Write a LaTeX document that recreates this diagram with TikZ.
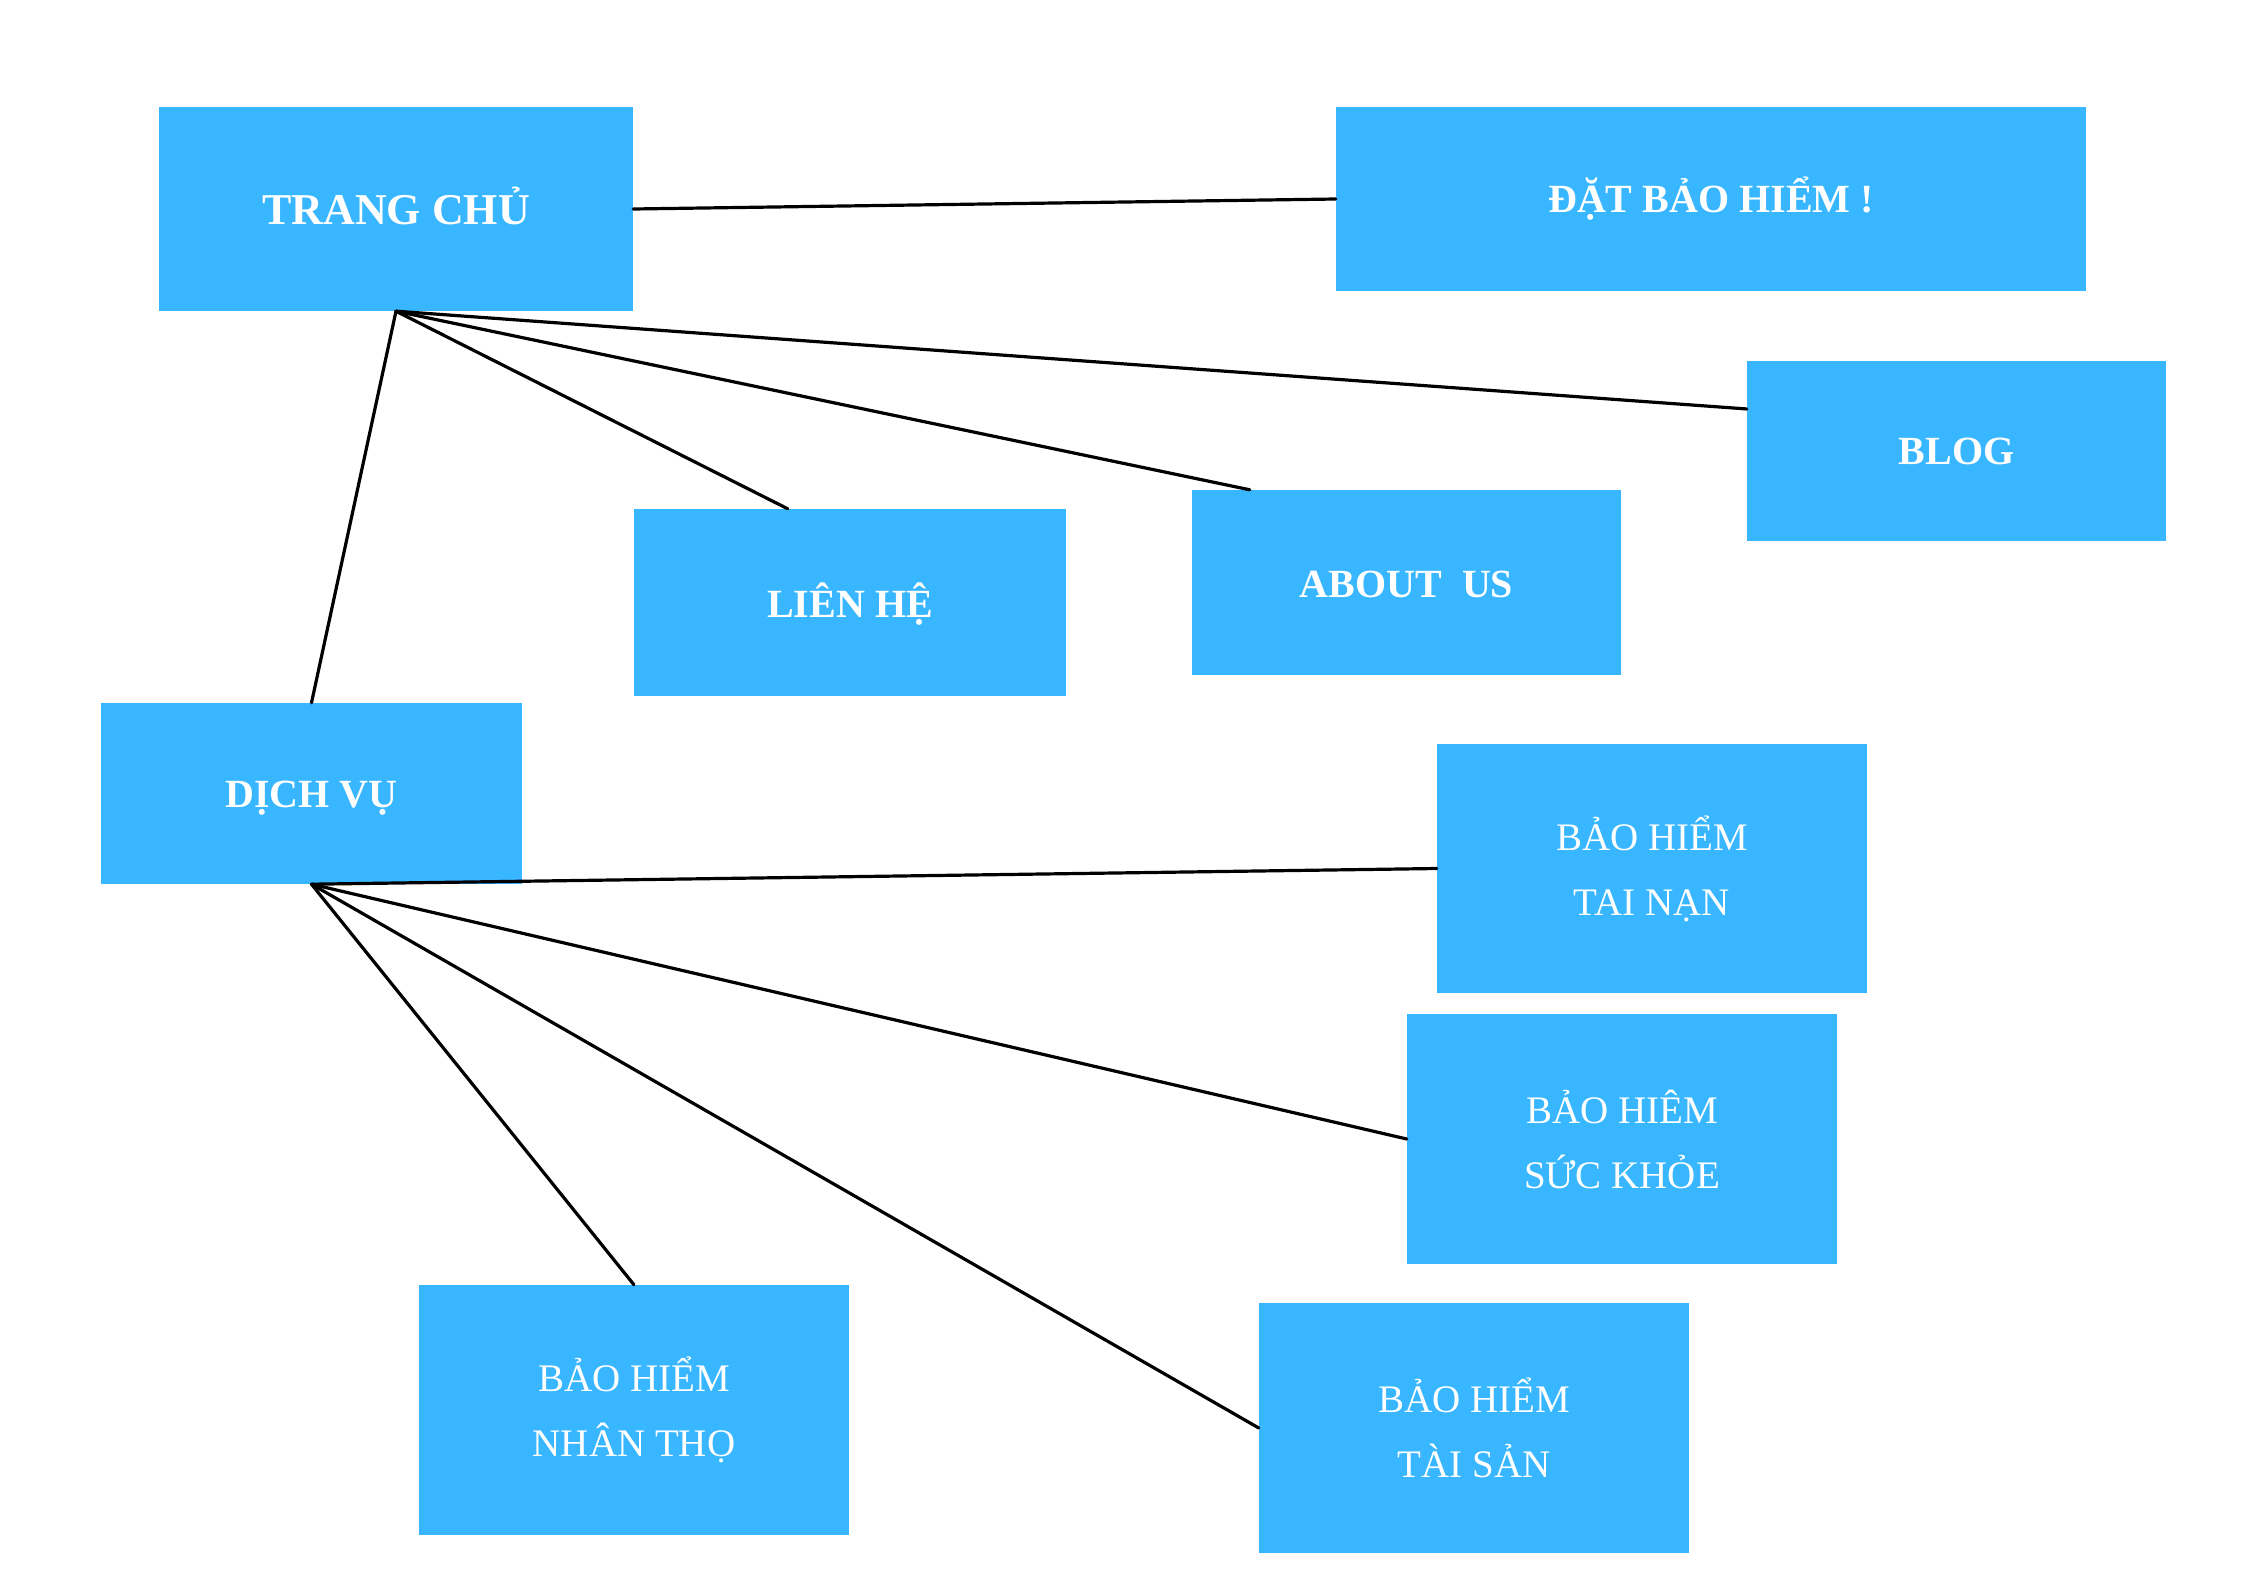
\documentclass[tikz,border=0pt]{standalone}
\usepackage{fontspec}
\setmainfont{Liberation Serif}
\usetikzlibrary{calc}
\definecolor{boxblue}{HTML}{38B6FF}
\newcommand{\nudge}[2]{\raisebox{#1}[\height][\depth]{#2}}
\tikzset{
  box/.style={fill=boxblue, draw=none, inner sep=0pt, text=white, align=center},
  boldlabel/.style={font=\fontsize{40}{48}\selectfont\bfseries},
  biglabel/.style={font=\fontsize{44}{52}\selectfont\bfseries},
  pairlabel/.style={font=\fontsize{39}{65}\selectfont},
  link/.style={draw=black, line width=3.2pt, line cap=round}
}
\begin{document}
\begin{tikzpicture}[x=1pt, y=-1pt]
  \useasboundingbox (0,0) rectangle (2245,1587);
  \fill[white] (0,0) rectangle (2245,1587);

  % menu boxes
  \node[box, biglabel, minimum width=474pt, minimum height=204pt] (tc) at (396,209) {\nudge{3pt}{TRANG CHỦ}};
  \node[box, boldlabel, minimum width=750pt, minimum height=184pt] (dbh) at (1711,199) {ĐẶT BẢO HIỂM !};
  \node[box, boldlabel, minimum width=419pt, minimum height=180pt] (blog) at (1956.5,451) {BLOG};
  \node[box, boldlabel, minimum width=432pt, minimum height=187pt] (lh) at (850,602.5) {\nudge{-2pt}{LIÊN HỆ}};
  \node[box, boldlabel, minimum width=429pt, minimum height=185pt] (au) at (1406.5,582.5) {\nudge{-2pt}{ABOUT\ \ US}};
  \node[box, boldlabel, minimum width=421pt, minimum height=181pt] (dv) at (311.5,793.5) {\nudge{-5pt}{DỊCH VỤ}};

  % service boxes
  \node[box, pairlabel, minimum width=430pt, minimum height=249pt] (tn) at (1652,868.5) {BẢO HIỂM\\TAI NẠN};
  \node[box, pairlabel, minimum width=430pt, minimum height=250pt] (sk) at (1622,1139) {BẢO HIÊM\\SỨC KHỎE};
  \node[box, pairlabel, minimum width=430pt, minimum height=250pt] (nt) at (634,1410) {BẢO HIỂM\\NHÂN THỌ};
  \node[box, pairlabel, minimum width=430pt, minimum height=250pt] (ts) at (1474,1428) {BẢO HIỂM\\TÀI SẢN};

  % connectors from the home page
  \draw[link] (tc.east) -- (dbh.west);
  \draw[link] (tc.south) -- ($(blog.north west)!0.267!(blog.south west)$);
  \draw[link] (tc.south) -- ($(au.north west)!0.135!(au.north east)$);
  \draw[link] (tc.south) -- ($(lh.north west)!0.356!(lh.north east)$);
  \draw[link] (tc.south) -- (dv.north);

  % connectors from the services page
  \draw[link] (dv.south) -- (tn.west);
  \draw[link] (dv.south) -- (sk.west);
  \draw[link] (dv.south) -- (nt.north);
  \draw[link] (dv.south) -- (ts.west);
\end{tikzpicture}
\end{document}
